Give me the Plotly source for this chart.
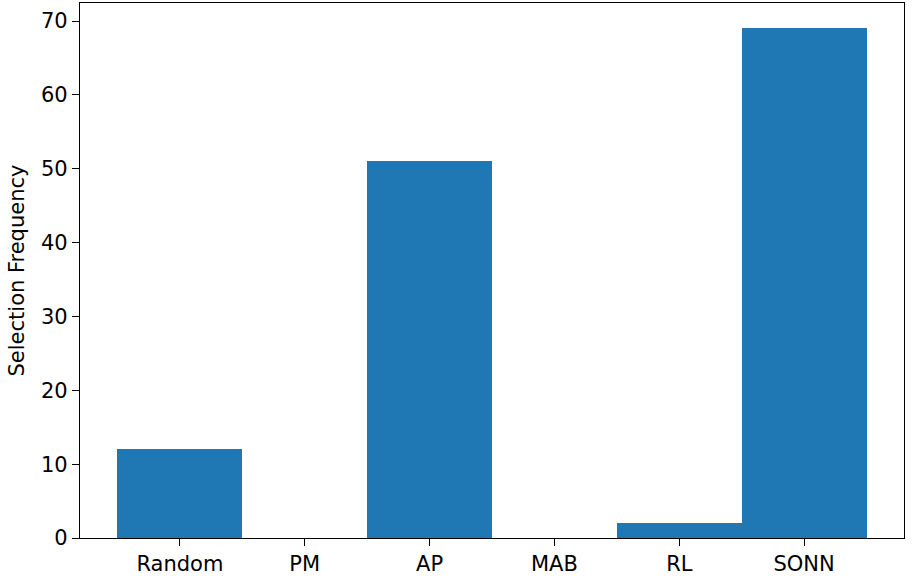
import plotly.graph_objects as go

methods = ["Random", "PM", "AP", "MAB", "RL", "SONN"]
selection_counts = [12, 0, 51, 0, 2, 69]

fig = go.Figure(
    go.Bar(
        x=list(range(len(methods))),
        y=selection_counts,
        width=1.0,
        marker=dict(color="#1f77b4", line=dict(width=0)),
    )
)

label_font = dict(family="DejaVu Sans", size=21, color="black")

axis_common = dict(
    showline=True,
    linecolor="black",
    linewidth=1.3,
    mirror=True,
    ticks="outside",
    ticklen=7,
    tickwidth=1.3,
    tickcolor="black",
    showgrid=False,
    zeroline=False,
    tickfont=label_font,
)

fig.update_xaxes(
    range=[-0.8, 5.8],
    tickmode="array",
    tickvals=list(range(len(methods))),
    ticktext=methods,
    **axis_common,
)
fig.update_yaxes(
    range=[0, 72.45],
    tickmode="array",
    tickvals=[0, 10, 20, 30, 40, 50, 60, 70],
    title=dict(text="Selection Frequency", font=label_font, standoff=10),
    **axis_common,
)

fig.update_layout(
    width=912,
    height=580,
    margin=dict(l=80, r=8, t=3, b=42),
    plot_bgcolor="white",
    paper_bgcolor="white",
    showlegend=False,
    bargap=0,
)

fig.write_html("out.html")
